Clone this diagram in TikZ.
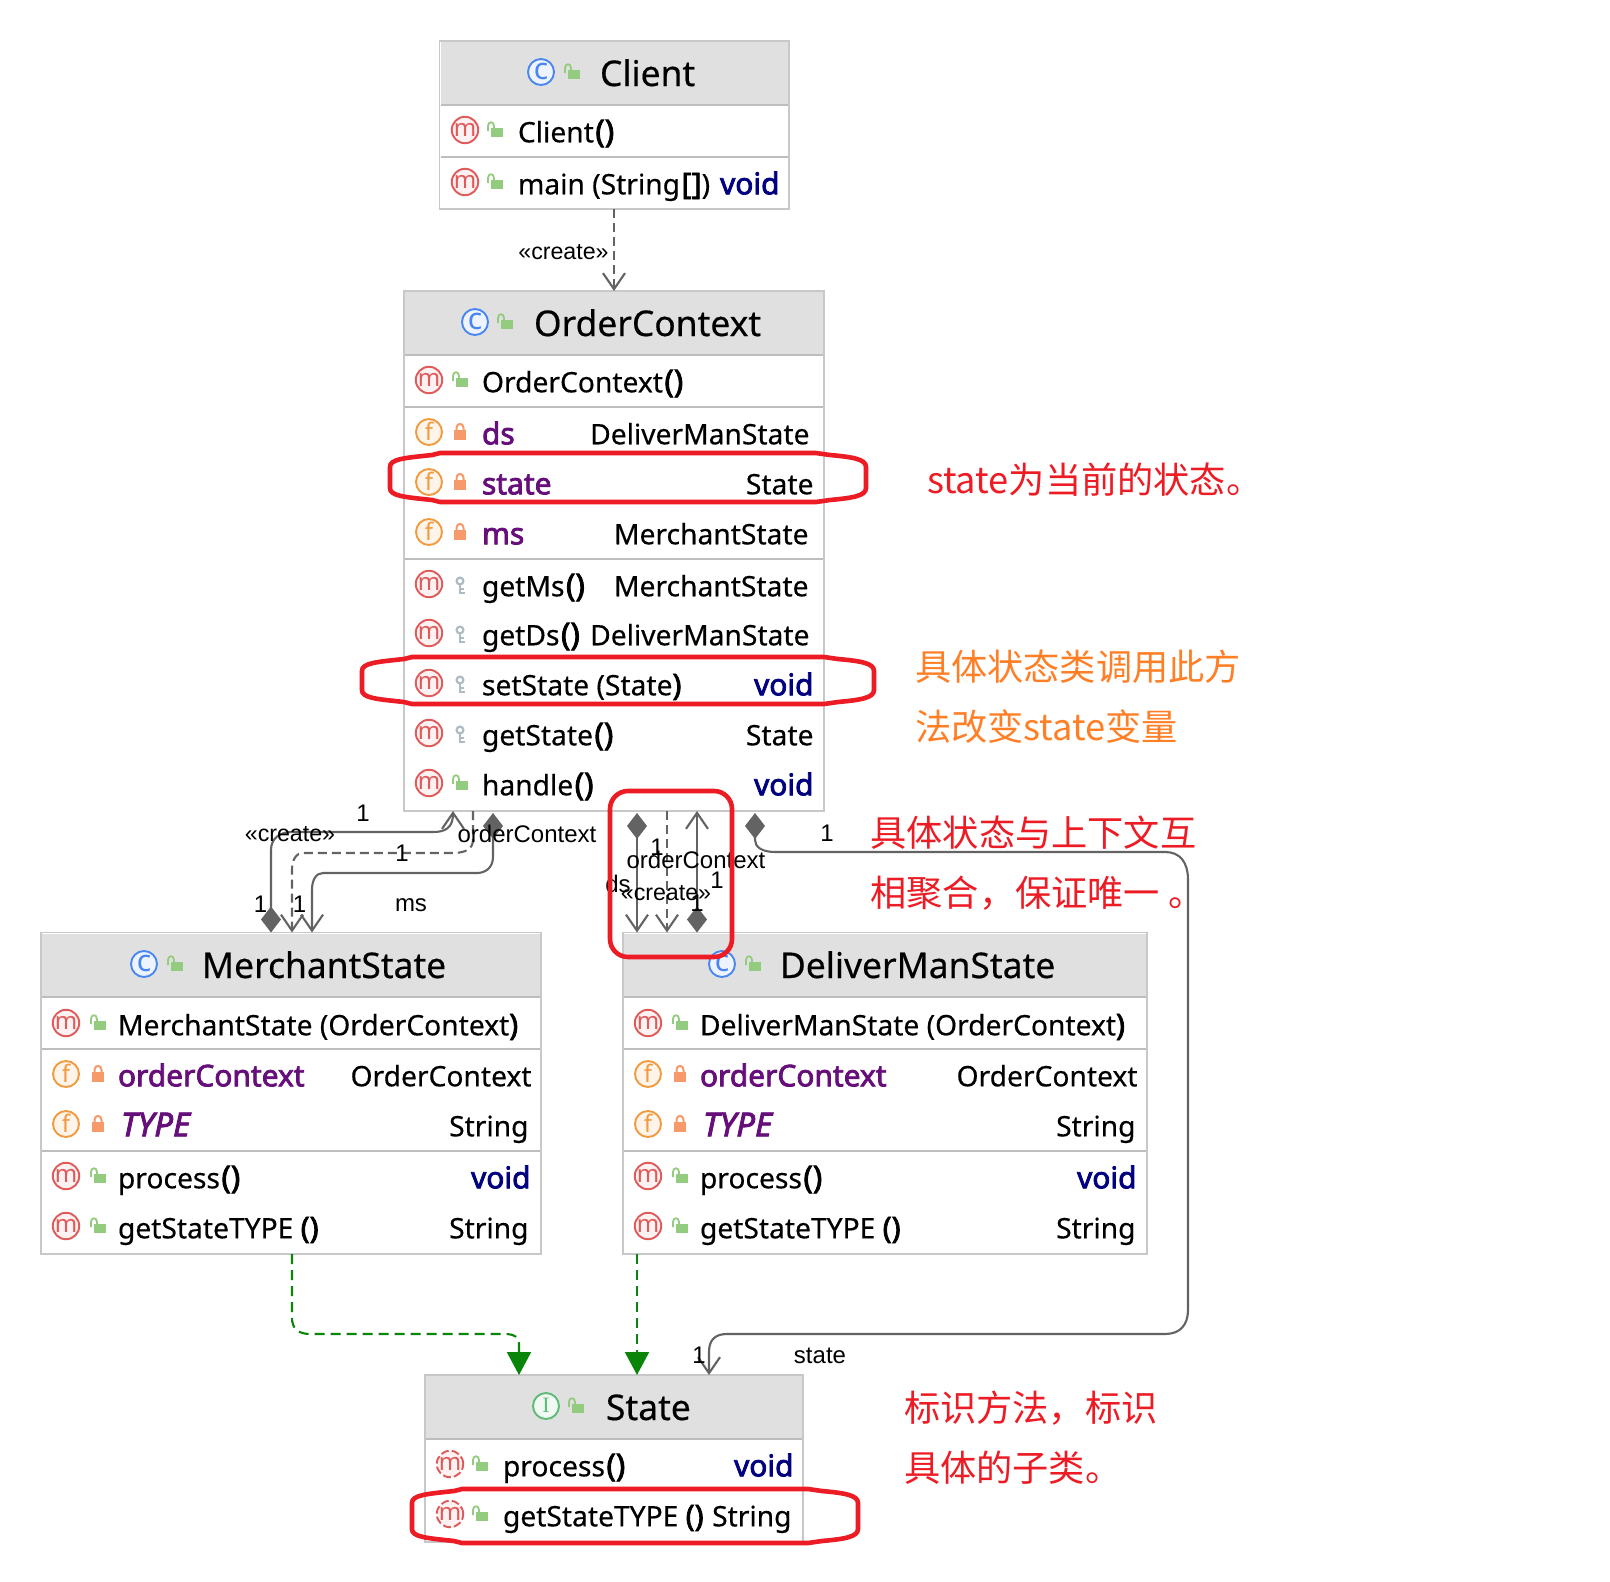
\documentclass[tikz,border=0pt]{standalone}
\usepackage{fontspec}
\usetikzlibrary{arrows.meta,shapes.geometric}
\setmainfont{Noto Sans}[FakeBold=0.4]
\newfontfamily\bdf{Noto Sans}[FakeBold=2.6,ItalicFeatures={FakeBold=2.6}]
\newfontfamily\icof{Noto Sans}
\newfontfamily\cjk{Noto Sans CJK SC}
\newfontfamily\lab{Liberation Sans}
\newfontfamily\serf{Liberation Serif}
\definecolor{hdr}{HTML}{E0E0E0}
\definecolor{edgegray}{HTML}{C8C8C8}
\definecolor{sepgray}{HTML}{BDBDBD}
\definecolor{conn}{HTML}{636363}
\definecolor{mred}{HTML}{E05A5A}
\definecolor{mfill}{HTML}{FDF1F1}
\definecolor{forange}{HTML}{F29A3E}
\definecolor{ffill}{HTML}{FFF4EA}
\definecolor{cblue}{HTML}{4A86F0}
\definecolor{cfill}{HTML}{EEF4FF}
\definecolor{igreen}{HTML}{5DBB78}
\definecolor{ifill}{HTML}{F0FAF2}
\definecolor{lockg}{HTML}{93CC7E}
\definecolor{locko}{HTML}{F79A6B}
\definecolor{keyg}{HTML}{AEBBC3}
\definecolor{purp}{HTML}{660E7A}
\definecolor{navyk}{HTML}{000080}
\definecolor{gdep}{HTML}{0A850A}
\definecolor{redm}{HTML}{ED1C24}
\definecolor{orgm}{HTML}{FF7F27}
\newcounter{lb}
\newcommand\bodyf{\fontsize{28.2}{34}\selectfont}
\newcommand\titf{\fontsize{35.4}{42}\selectfont}
\newcommand\labf{\lab\fontsize{24}{28}\selectfont}
\newcommand\notef{\cjk\fontsize{36.2}{42}\selectfont}
\newcommand\bd[1]{{\bdf\fontsize{29.9}{34}\selectfont #1}}
\newcommand\pr[1]{{\bdf\fontsize{31.5}{34}\selectfont\hspace{1.5pt}#1}}
\newcommand\vd{\textcolor{navyk}{\bd{void}}}
\newcommand\fld[1]{\textcolor{purp}{\bd{#1}}}
\newcommand\typ{\textcolor{purp}{{\bdf\itshape\fontsize{33}{34}\selectfont TYPE}}}
\newcommand\tx[4]{\stepcounter{lb}\node[txt,anchor=#1] (t\thelb) at (#2,#3) {#4};}
\newcommand\lbl[3]{\stepcounter{lb}\node[txt,anchor=center,font=\labf] (t\thelb) at (#1,#2) {#3};}
\newcommand\crt[2]{\stepcounter{lb}\node[txt,anchor=center,font=\lab\fontsize{23.2}{28}\selectfont] (t\thelb) at (#1,#2) {«create»};}
\newcommand\note[4]{\stepcounter{lb}\node[txt,anchor=west,font=\notef,text=#1] (t\thelb) at (#2,#3) {#4};}
% icons
\newcommand\ico[6]{\stepcounter{lb}\node[circle,draw=#1,fill=#2,line width=1.9pt,minimum size=26pt,inner sep=0pt,text=#1,font=\icof\fontsize{24}{24}\selectfont,#6] (t\thelb) at (#3,#4) {\raisebox{1pt}{#5}};}
\newcommand\icoM[2]{\ico{mred}{mfill}{#1}{#2}{m}{}}
\newcommand\icoD[2]{\ico{mred}{mfill}{#1}{#2}{m}{dash pattern=on 8pt off 3pt}}
\newcommand\icoF[2]{\ico{forange}{ffill}{#1}{#2}{f}{}}
\newcommand\icoC[2]{\ico{cblue}{cfill}{#1}{#2}{{\fontsize{30}{30}\selectfont c}}{}}
\newcommand\icoI[2]{\ico{igreen}{ifill}{#1}{#2}{\serf\fontsize{22}{22}\selectfont I}{}}
\newcommand\lkO[2]{\fill[lockg] (#1-4,#2-2) rectangle (#1+8,#2+7);
  \draw[lockg,line width=1.8pt] (#1-7,#2+1) -- (#1-7,#2-4) .. controls (#1-7,#2-9) and (#1-1,#2-9) .. (#1-1,#2-4) -- (#1-1,#2-2);}
\newcommand\lkC[2]{\fill[locko] (#1-6,#2-2) rectangle (#1+6,#2+8);
  \draw[locko,line width=2pt] (#1-3.5,#2-2) -- (#1-3.5,#2-4) .. controls (#1-3.5,#2-9.5) and (#1+3.5,#2-9.5) .. (#1+3.5,#2-4) -- (#1+3.5,#2-2);}
\newcommand\lkK[2]{\draw[keyg,line width=2.2pt] (#1,#2-3) circle (3.4);
  \draw[keyg,line width=2.8pt] (#1,#2+0.5) -- (#1,#2+10) (#1,#2+9) -- (#1+5,#2+9) (#1,#2+5) -- (#1+4,#2+5);}
% body rows: icon, y, lock, text, right x, right text
\newcommand\mrow[6]{#1{\bxI}{#2}#3{\bxL}{#2}\tx{base west}{\bxT-1}{#2+12.3}{#4}\tx{base east}{#5+1.5}{#2+12.3}{#6}}
% box: name,x1,y1,x2,y2,header bottom
\newcommand\umlbox[6]{\node[umlb,anchor=north west,minimum width={(#4-#2)*1pt},minimum height={(#5-#3)*1pt}] (#1) at (#2,#3) {};
  \fill[hdr] (#2+1,#3+1) rectangle (#4-1,#6);
  \draw[sepl] (#2+1,#6) -- (#4-1,#6);}
\newcommand\redloop[4]{\draw[redl] (#1,#2+14) .. controls (#1,#2+6) and (#1+14,#2+5) .. (#1+42,#2+2) -- (#1+50,#2) -- (#3-50,#2) -- (#3-36,#2+2) .. controls (#3-14,#2+4) and (#3,#2+6) .. (#3,#2+14) -- (#3,#4-14) .. controls (#3,#4-6) and (#3-14,#4-4) .. (#3-36,#4-2) -- (#3-50,#4) -- (#1+50,#4) -- (#1+42,#4-2) .. controls (#1+14,#4-5) and (#1,#4-6) .. (#1,#4-14) -- cycle;}
\tikzset{
 txt/.style={inner sep=0pt,outer sep=0pt,font=\bodyf},
 umlb/.style={draw=edgegray,fill=white,line width=1.5pt,inner sep=0pt,outer sep=0pt},
 sepl/.style={draw=sepgray,line width=2pt},
 assoc/.style={draw=conn,line width=2.1pt},
 depd/.style={assoc,dash pattern=on 9pt off 5pt},
 real/.style={draw=gdep,line width=2.1pt,dash pattern=on 10pt off 6pt,-{Triangle[length=23pt,width=24pt,fill=gdep]}},
 redl/.style={draw=redm,line width=4.6pt},
 opent/.style={-{Straight Barb[length=16pt,width=22pt]}},
 dopen/.style={{Diamond[length=26pt,width=20pt,fill=conn]}-{Straight Barb[length=16pt,width=22pt]}},
}
\begin{document}
\begin{tikzpicture}[x=1pt,y=-1pt]
\useasboundingbox (0,0) rectangle (1610,1582);
\fill[white] (0,0) rectangle (1610,1582);
% Client
\umlbox{cl}{439.5}{41}{789}{209}{105}
\draw[sepl] (440.5,157) -- (788,157);
\icoC{541}{72}\lkO{572}{72}\tx{base west}{600}{86}{\titf Client}
\def\bxI{465}\def\bxL{495}\def\bxT{519}
\mrow\icoM{130}\lkO{Client\pr{()}}{780}{}
\mrow\icoM{182}\lkO{main (String\hspace{1.5pt}\bd{[\hspace{0.5pt}]})}{778}{\vd}
% OrderContext
\umlbox{oc}{404}{291}{824}{811}{355}
\draw[sepl] (405,407) -- (823,407);
\draw[sepl] (405,559) -- (823,559);
\icoC{475}{322}\lkO{505}{322}\tx{base west}{534}{336}{\titf OrderContext}
\def\bxI{429}\def\bxL{460}\def\bxT{483}
\mrow\icoM{380}\lkO{OrderContext\pr{()}}{810}{}
\mrow\icoF{432}\lkC{\fld{ds}}{808}{DeliverManState}
\mrow\icoF{482}\lkC{\fld{state}}{812}{State}
\mrow\icoF{532}\lkC{\fld{ms}}{807}{MerchantState}
\mrow\icoM{584}\lkK{getMs\pr{()}}{807}{MerchantState}
\mrow\icoM{633}\lkK{getDs\pr{()}}{808}{DeliverManState}
\mrow\icoM{683}\lkK{setState (State\bd{)}}{812}{\vd}
\mrow\icoM{733}\lkK{getState\pr{()}}{812}{State}
\mrow\icoM{783}\lkO{handle\pr{()}}{812}{\vd}
% MerchantState
\umlbox{ms}{41}{932.5}{541}{1254}{997}
\draw[sepl] (42,1049) -- (540,1049);
\draw[sepl] (42,1151) -- (540,1151);
\icoC{144}{964}\lkO{175}{964}\tx{base west}{202}{978}{\titf MerchantState}
\def\bxI{66}\def\bxL{98}\def\bxT{119}
\mrow\icoM{1023}\lkO{MerchantState (OrderContext\bd{)}}{530}{}
\mrow\icoF{1074}\lkC{\fld{orderContext}}{530}{OrderContext}
\mrow\icoF{1124}\lkC{\hspace{3pt}\typ}{527}{String}
\mrow\icoM{1176}\lkO{process\pr{()}}{529}{\vd}
\mrow\icoM{1226}\lkO{getStateTYPE \bd{()}}{527}{String}
% DeliverManState
\umlbox{dm}{623}{932.5}{1147}{1254}{997}
\draw[sepl] (624,1049) -- (1146,1049);
\draw[sepl] (624,1151) -- (1146,1151);
\icoC{722}{964}\lkO{753}{964}\tx{base west}{780}{978}{\titf DeliverManState}
\def\bxI{648}\def\bxL{680}\def\bxT{701}
\mrow\icoM{1023}\lkO{DeliverManState (OrderContext\bd{)}}{1130}{}
\mrow\icoF{1074}\lkC{\fld{orderContext}}{1136}{OrderContext}
\mrow\icoF{1124}\lkC{\hspace{3pt}\typ}{1134}{String}
\mrow\icoM{1176}\lkO{process\pr{()}}{1135}{\vd}
\mrow\icoM{1226}\lkO{getStateTYPE \bd{()}}{1134}{String}
% State
\umlbox{st}{425}{1375}{803}{1542}{1439}
\icoI{546}{1406}\lkO{576}{1406}\tx{base west}{606}{1420}{\titf State}
\def\bxI{450}\def\bxL{480}\def\bxT{504}
\mrow\icoD{1464}\lkO{process\pr{()}}{792}{\vd}
\mrow\icoD{1514}\lkO{getStateTYPE \bd{()}}{790}{String}
% connectors
\draw[depd,opent] ([xshift=174.5pt]cl.south west) -- ([xshift=210pt]oc.north west);
\draw[assoc,dopen] ([xshift=230pt]ms.north west) -- (271,850) .. controls (271,838) and (280,832) .. (292,832) -- (433,832) .. controls (445,832) and (453,828) .. ([xshift=49pt]oc.south west);
\draw[depd,opent] ([xshift=69pt]oc.south west) -- (473,840) .. controls (473,849) and (465,853) .. (453,853) -- (303,853) .. controls (296,853) and (292,860) .. (292,870) -- ([xshift=251pt]ms.north west);
\draw[assoc,dopen] ([xshift=89pt,yshift=-2pt]oc.south west) -- (493,857) .. controls (493,868) and (485,873) .. (477,873) -- (323,873) .. controls (316,873) and (312,880) .. (312,890) -- ([xshift=271pt]ms.north west);
\draw[assoc,dopen] ([xshift=233pt,yshift=-2pt]oc.south west) -- ([xshift=14pt]dm.north west);
\draw[depd,opent] ([xshift=263pt]oc.south west) -- ([xshift=44pt]dm.north west);
\draw[assoc,dopen] ([xshift=74pt]dm.north west) -- ([xshift=293pt]oc.south west);
\draw[assoc,dopen] ([xshift=351pt,yshift=-2pt]oc.south west) -- (755,840) .. controls (755,847) and (762,852) .. (775,852) -- (1165,852) .. controls (1180,852) and (1188,862) .. (1188,880) -- (1188,1310) .. controls (1188,1325) and (1180,1334) .. (1165,1334) -- (727,1334) .. controls (715,1334) and (709,1340) .. (709,1352) -- ([xshift=284pt]st.north west);
\draw[real] ([xshift=251pt]ms.south west) -- (292,1318) .. controls (292,1328) and (298,1334) .. (310,1334) -- (505,1334) .. controls (514,1334) and (519,1337) .. (519,1345) -- ([xshift=94pt]st.north west);
\draw[real] ([xshift=14pt]dm.south west) -- ([xshift=212pt]st.north west);
% connector labels
\crt{563.5}{252.5}
\lbl{363}{813}{1}
\crt{290}{834.5}
\lbl{527}{834}{orderContext}
\lbl{402}{853}{1}
\lbl{260.5}{904.5}{1}
\lbl{299.5}{904.5}{1}
\lbl{411}{905}{ms}
\lbl{657}{847}{1}
\lbl{696}{860}{orderContext}
\lbl{618}{884}{ds}
\crt{666}{893}
\lbl{717}{880}{1}
\lbl{697}{903}{1}
\lbl{827}{833}{1}
\lbl{699}{1355}{1}
\lbl{820}{1356}{state}
% red highlights
\redloop{390}{453}{866}{502}
\redloop{362}{657}{874}{704}
\redloop{412}{1489}{858}{1543}
\draw[redl,rounded corners=18pt] (610,791) rectangle (732,957);
% annotations
\note{redm}{927}{480}{state为当前的状态。}
\note{orgm}{915}{667}{具体状态类调用此方}
\note{orgm}{915}{727}{法改变state变量}
\note{redm}{870.5}{833}{具体状态与上下文互}
\note{redm}{870.5}{893}{相聚合，保证唯一 。}
\note{redm}{904}{1408}{标识方法，标识}
\note{redm}{904}{1468}{具体的子类。}
\end{tikzpicture}
\end{document}
